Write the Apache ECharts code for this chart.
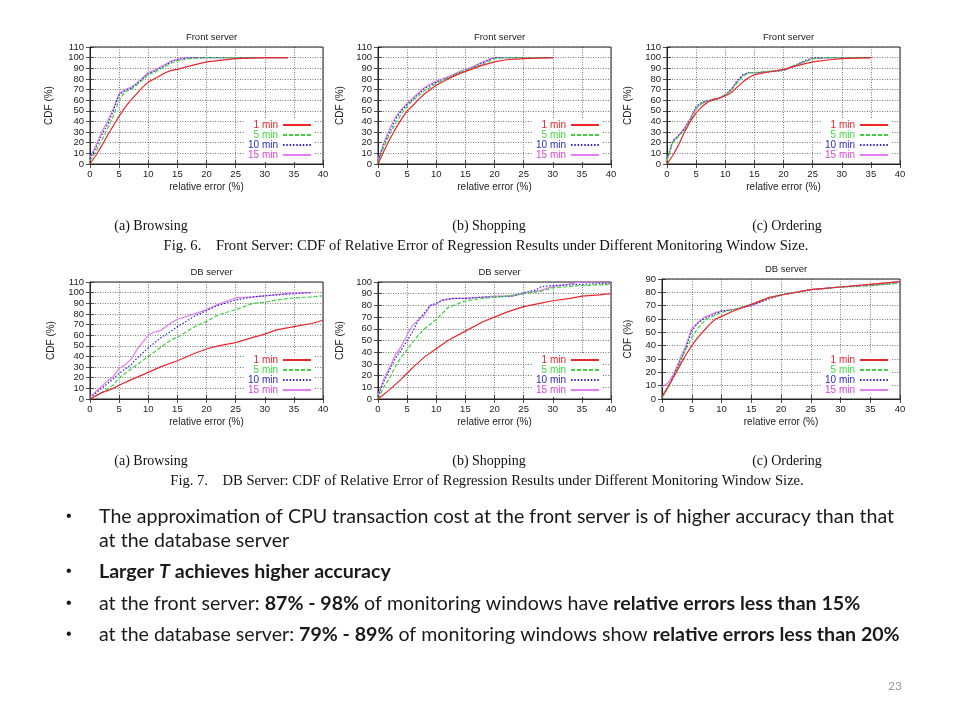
<!DOCTYPE html>
<html><head><meta charset="utf-8">
<script src="https://cdn.jsdelivr.net/npm/echarts@6/dist/echarts.min.js"></script>
<style>html,body{margin:0;padding:0;background:#fff}#c{width:960px;height:720px}</style>
</head><body><div id="c"></div><script>
// ---------- data ----------
const windowNames = ['1 min', '5 min', '10 min', '15 min'];
const panelTitles = ['Front server', 'Front server', 'Front server', 'DB server', 'DB server', 'DB server'];
const yMaxes = [110, 110, 110, 110, 100, 90];
const xMax = 40;
const xAxisName = 'relative error (%)';
const yAxisName = 'CDF (%)';

const frBr1 = [[0,0],[1,8],[2,17],[3,27],[4,36],[5,45],[6,53],[7,60],[8,66],[9,72],[10,77],[11,80],[12,83],[13,86],[14,88],[15,89],[17,92],[20,96],[25,99],[30,100],[34,100]];
const frBr5 = [[0,3],[1,12],[2,22],[3,33],[4,45],[5,60],[6,68],[7,70],[8,74],[9,79],[10,84],[11,86],[12,89],[13,92],[14,95],[15,97],[17,99],[20,100],[25,100],[30,100],[34,100]];
const frBr10 = [[0,5],[1,15],[2,27],[3,37],[4,50],[5,65],[6,69],[7,71],[8,75],[9,80],[10,85],[11,87],[12,90],[13,93],[14,96],[15,98],[17,100],[20,100],[25,100],[30,100],[34,100]];
const frBr15 = [[0,6],[1,17],[2,30],[3,40],[4,52],[5,66],[6,70],[7,72],[8,76],[9,81],[10,86],[11,88],[12,91],[13,94],[14,97],[16,100],[20,100],[25,100],[30,100],[34,100]];

const frSh1 = [[0,0],[1,12],[2,23],[3,33],[4,42],[5,50],[6,55],[7,61],[8,66],[9,70],[10,74],[12,80],[14,85],[16,89],[18,93],[20,96],[22,98],[25,99],[30,100]];
const frSh5 = [[0,2],[1,16],[2,28],[3,38],[4,47],[5,54],[6,60],[7,64],[8,69],[9,72],[10,76],[12,81],[14,86],[16,90],[18,94],[20,99],[22,100],[25,100],[30,100]];
const frSh10 = [[0,3],[1,18],[2,30],[3,42],[4,50],[5,56],[6,61],[7,66],[8,71],[9,74],[10,77],[12,81],[14,86],[16,90],[18,95],[19,98],[20,100],[25,100],[30,100]];
const frSh15 = [[0,4],[1,20],[2,33],[3,44],[4,51],[5,57],[6,62],[7,67],[8,72],[9,75],[10,78],[12,82],[14,87],[16,91],[18,96],[20,100],[25,100],[30,100]];

const frOr1 = [[0,0],[1,8],[2,18],[3,30],[4,40],[5,48],[6,54],[7,58],[8,61],[9,62],[10,64],[11,67],[12,72],[13,77],[14,81],[15,84],[17,86],[20,89],[22,92],[25,96],[28,98],[30,99],[35,100]];
const frOr5 = [[0,3],[1,20],[2,26],[3,32],[4,41],[5,52],[6,57],[7,59],[8,60],[9,62],[10,65],[11,69],[12,76],[13,82],[14,86],[15,86],[17,87],[20,88],[22,93],[24,97],[25,99],[27,100],[30,100],[35,100]];
const frOr10 = [[0,5],[1,22],[2,27],[3,33],[4,42],[5,54],[6,58],[7,60],[8,60],[9,62],[10,65],[11,70],[12,78],[13,84],[14,86],[16,86],[18,87],[20,88],[22,93],[24,98],[25,100],[30,100],[35,100]];
const frOr15 = [[0,4],[1,21],[2,27],[3,34],[4,43],[5,53],[6,57],[7,59],[8,60],[9,62],[10,65],[11,70],[12,77],[13,83],[14,86],[16,86],[18,87],[20,88],[22,92],[24,97],[25,99],[28,100],[30,100],[35,100]];

const dbBr1 = [[0,0],[2,6],[4,10],[5,13],[7,18],[10,25],[12,30],[15,36],[18,43],[20,47],[22,50],[25,53],[28,58],[30,61],[32,65],[35,68],[38,71],[40,74]];
const dbBr5 = [[0,0],[2,6],[4,13],[5,20],[7,28],[10,40],[12,48],[14,56],[15,58],[18,68],[20,73],[22,79],[25,84],[28,90],[30,91],[32,93],[35,95],[38,96],[40,97]];
const dbBr10 = [[0,1],[2,10],[4,19],[5,24],[7,32],[8,38],[10,48],[12,57],[14,64],[15,68],[18,78],[20,83],[22,88],[25,93],[28,96],[30,97],[35,99],[38,100]];
const dbBr15 = [[0,2],[2,12],[3,17],[4,21],[5,29],[6,32],[7,37],[8,46],[10,60],[11,63],[12,64],[14,72],[15,75],[18,80],[20,84],[22,89],[24,93],[25,95],[28,96],[30,97],[35,100],[38,100]];

const dbSh1 = [[0,0],[2,8],[4,17],[5,22],[6,27],[8,36],[10,43],[12,50],[15,58],[18,66],[20,70],[22,74],[25,79],[28,82],[30,84],[33,86],[35,88],[38,89],[40,90]];
const dbSh5 = [[0,0],[1,10],[2,18],[3,28],[4,36],[5,42],[6,49],[7,55],[8,60],[10,68],[12,78],[13,80],[15,84],[18,86],[20,87],[22,88],[25,90],[28,92],[30,95],[35,97],[40,98]];
const dbSh10 = [[0,2],[1,15],[2,25],[3,35],[4,42],[5,50],[6,58],[7,68],[8,74],[9,80],[10,82],[11,84],[13,86],[15,86],[18,87],[20,87],[23,88],[25,91],[27,93],[28,96],[30,97],[35,98],[40,99]];
const dbSh15 = [[0,3],[1,17],[2,27],[3,38],[4,45],[5,55],[6,63],[7,68],[8,72],[9,80],[10,81],[11,85],[13,86],[15,86],[18,87],[20,88],[23,88],[25,90],[28,93],[30,96],[35,100],[40,100]];

const dbOr1 = [[0,2],[1,9],[2,17],[3,25],[4,33],[5,40],[6,46],[7,51],[8,56],[9,60],[10,62],[12,66],[15,71],[18,76],[20,78],[25,82],[30,84],[35,86],[40,88]];
const dbOr5 = [[0,1],[1,8],[2,17],[3,27],[4,37],[5,46],[6,53],[7,58],[8,61],[9,63],[10,65],[12,67],[15,71],[18,76],[20,78],[25,82],[30,84],[35,85],[40,87]];
const dbOr10 = [[0,1],[1,9],[2,18],[3,28],[4,38],[5,51],[6,57],[7,60],[8,62],[9,64],[10,66],[12,67],[15,70],[18,75],[20,78],[25,82],[30,84],[35,85],[40,87]];
const dbOr15 = [[0,9],[1,12],[2,19],[3,30],[4,40],[5,53],[6,57],[7,61],[8,63],[9,65],[10,66],[12,67],[15,70],[18,76],[20,78],[25,82],[30,84],[35,86],[40,88]];

const panelData = [
  [frBr1, frBr5, frBr10, frBr15],
  [frSh1, frSh5, frSh10, frSh15],
  [frOr1, frOr5, frOr10, frOr15],
  [dbBr1, dbBr5, dbBr10, dbBr15],
  [dbSh1, dbSh5, dbSh10, dbSh15],
  [dbOr1, dbOr5, dbOr10, dbOr15]
];

const subCaptions = ['(a) Browsing', '(b) Shopping', '(c) Ordering'];
const fig6Caption = 'Fig. 6.    Front Server: CDF of Relative Error of Regression Results under Different Monitoring Window Size.';
const fig7Caption = 'Fig. 7.    DB Server: CDF of Relative Error of Regression Results under Different Monitoring Window Size.';
const pageNumber = '23';

// ---------- layout & style ----------
const layout = [
  {left: 90, top: 47, width: 233, height: 117, nameGap: 36},
  {left: 378, top: 47, width: 233, height: 117, nameGap: 33},
  {left: 667, top: 47, width: 233, height: 117, nameGap: 34},
  {left: 90, top: 282, width: 233, height: 117, nameGap: 34},
  {left: 378, top: 282, width: 233, height: 117, nameGap: 33},
  {left: 662, top: 279, width: 238, height: 120, nameGap: 29}
];
const lineColors = ['#e8262b', '#3fcf3f', '#2a2acb', '#e07ef0'];
const textColors = ['#e8262b', '#3fdc3f', '#2a2acb', '#d444d4'];
const dashes = ['solid', [4, 2], [1.5, 1.8], 'solid'];
const sansFont = '"Liberation Sans", Arial, sans-serif';

const option = {
  animation: false,
  backgroundColor: '#fff',
  title: [], grid: [], xAxis: [], yAxis: [], series: [], legend: [], graphic: []
};

layout.forEach((L, p) => {
  option.grid.push({left: L.left, top: L.top, width: L.width, height: L.height, show: true,
    borderColor: '#222', borderWidth: 1, backgroundColor: 'transparent', containLabel: false});
  option.title.push({text: panelTitles[p], left: L.left + L.width / 2, top: L.top - 20, textAlign: 'center',
    textStyle: {fontFamily: sansFont, fontSize: 9.5, fontWeight: 'normal', color: '#222'}});
  const tickStyle = {show: true, inside: true, length: 4, lineStyle: {color: '#222', width: 0.8}};
  option.xAxis.push({gridIndex: p, type: 'value', min: 0, max: xMax, interval: 5,
    name: xAxisName, nameLocation: 'middle', nameGap: 18,
    nameTextStyle: {fontFamily: sansFont, fontSize: 10, color: '#222'},
    axisLine: {show: true, onZero: false, lineStyle: {color: '#222', width: 1}},
    axisTick: tickStyle,
    axisLabel: {fontFamily: sansFont, fontSize: 9.5, color: '#222', margin: 5},
    splitLine: {show: true, lineStyle: {color: '#555', type: [1, 1.5], width: 0.8}}});
  option.yAxis.push({gridIndex: p, type: 'value', min: 0, max: yMaxes[p], interval: 10,
    name: yAxisName, nameLocation: 'middle', nameGap: L.nameGap, nameRotate: 90,
    nameTextStyle: {fontFamily: sansFont, fontSize: 10, color: '#222'},
    axisLine: {show: true, onZero: false, lineStyle: {color: '#222', width: 1}},
    axisTick: tickStyle,
    axisLabel: {fontFamily: sansFont, fontSize: 9.5, color: '#222', margin: 6},
    splitLine: {show: true, lineStyle: {color: '#555', type: [1, 1.5], width: 0.8}}});
  panelData[p].forEach((d, s) => {
    option.series.push({type: 'line', name: windowNames[s], xAxisIndex: p, yAxisIndex: p,
      data: d, symbol: 'none', showSymbol: false, silent: true,
      lineStyle: {color: lineColors[s], width: 1.2, type: dashes[s]},
      itemStyle: {color: lineColors[s]}, z: 3 + (3 - s)});
  });
  option.legend.push({
    orient: 'vertical', align: 'right', selectedMode: false,
    right: 960 - (L.left + L.width - 11) - 3,
    top: L.top + L.height - 39 - 5 - 2,
    itemWidth: 28, itemHeight: 2, itemGap: 0,
    itemStyle: {opacity: 0},
    padding: [2, 3], backgroundColor: '#fff',
    data: windowNames.map((n, s) => ({name: n, textStyle: {color: textColors[s]}})),
    textStyle: {fontFamily: sansFont, fontSize: 10, lineHeight: 9.3, padding: 0}
  });
});

// extra top/right axes for mirrored ticks
layout.forEach((L, p) => {
  const tickStyle = {show: true, inside: true, length: 4, lineStyle: {color: '#222', width: 0.8}};
  option.xAxis.push({gridIndex: p, type: 'value', position: 'top', min: 0, max: xMax, interval: 5,
    axisLine: {show: false}, axisTick: tickStyle, axisLabel: {show: false}, splitLine: {show: false}});
  option.yAxis.push({gridIndex: p, type: 'value', position: 'right', min: 0, max: yMaxes[p], interval: 10,
    axisLine: {show: false}, axisTick: tickStyle, axisLabel: {show: false}, splitLine: {show: false}});
});

const serif = '"Liberation Serif", "Times New Roman", serif';
const capX = [151, 489, 787];
subCaptions.forEach((t, i) => {
  option.graphic.push({type: 'text', x: capX[i], y: 226, style: {text: t, font: '14px ' + serif, fill: '#111', textAlign: 'center', textVerticalAlign: 'middle'}});
  option.graphic.push({type: 'text', x: capX[i], y: 461, style: {text: t, font: '14px ' + serif, fill: '#111', textAlign: 'center', textVerticalAlign: 'middle'}});
});
option.graphic.push({type: 'text', x: 486, y: 246, style: {text: fig6Caption, font: '14.6px ' + serif, fill: '#111', textAlign: 'center', textVerticalAlign: 'middle'}});
option.graphic.push({type: 'text', x: 487, y: 481, style: {text: fig7Caption, font: '14.6px ' + serif, fill: '#111', textAlign: 'center', textVerticalAlign: 'middle'}});

const bodyFont = 'Lato, "Open Sans", sans-serif';
const fs = 19.6;
const rich = {
  n: {fontFamily: bodyFont, fontSize: fs, color: '#1a1a1a'},
  b: {fontFamily: bodyFont, fontSize: fs, fontWeight: 'bold', color: '#1a1a1a'},
  bi: {fontFamily: bodyFont, fontSize: fs, fontWeight: 'bold', fontStyle: 'italic', color: '#1a1a1a'}
};
const bulletLines = [
  {y: 517, bullet: true, text: '{n|The approximation of CPU transaction cost at the front server is of higher accuracy than that}'},
  {y: 541, bullet: false, text: '{n|at the database server}'},
  {y: 572, bullet: true, text: '{b|Larger }{bi|T}{b| achieves higher accuracy}'},
  {y: 604, bullet: true, text: '{n|at the front server: }{b|87% - 98%}{n| of monitoring windows have }{b|relative errors less than 15%}'},
  {y: 635, bullet: true, text: '{n|at the database server: }{b|79% - 89%}{n| of monitoring windows show }{b|relative errors less than 20%}'}
];
bulletLines.forEach(l => {
  if (l.bullet) option.graphic.push({type: 'text', x: 66, y: l.y, style: {text: '•', font: '16px Arial', fill: '#1a1a1a', textVerticalAlign: 'middle'}});
  option.graphic.push({type: 'text', x: 99, y: l.y, style: {text: l.text, rich: rich, textVerticalAlign: 'middle', fill: '#1a1a1a'}});
});
option.graphic.push({type: 'text', x: 902, y: 686, style: {text: pageNumber, font: '12px ' + bodyFont, fill: '#999', textAlign: 'right', textVerticalAlign: 'middle'}});

const chart = echarts.init(document.getElementById('c'), null, {renderer: 'canvas'});
chart.setOption(option);
</script></body></html>
